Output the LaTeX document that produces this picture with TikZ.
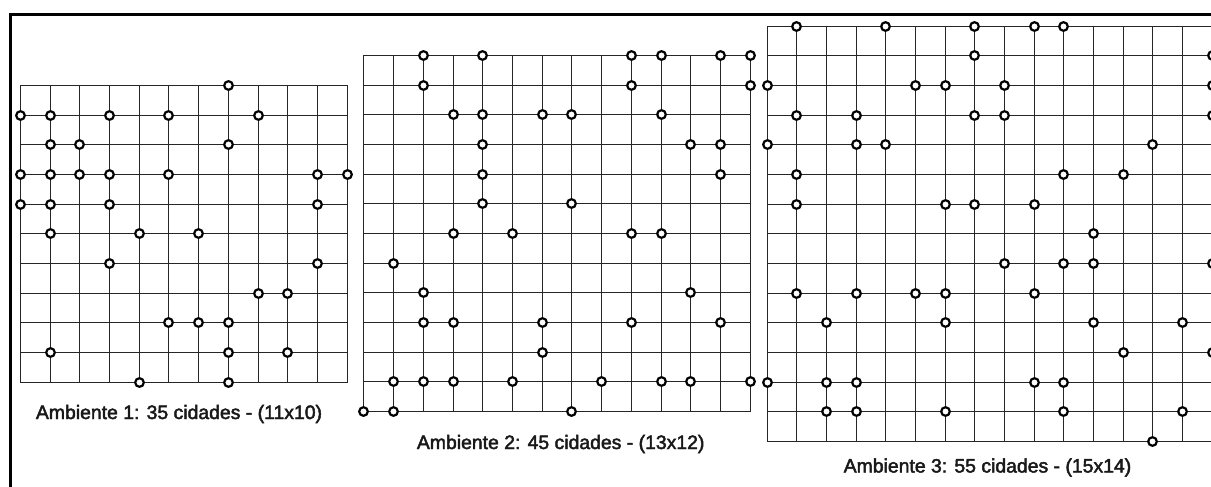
\documentclass[tikz,border=0pt]{standalone}
\usepackage{fontspec}
\setmainfont{Liberation Sans}
\newcommand\tspgrid[5]{% x0, y0, dx, nx, ny
  \foreach \i in {0,...,#4} \draw[gridline] ({round(#1+\i*#3)+0.5},{round(#2)+0.5}) -- ({round(#1+\i*#3)+0.5},{round(#2+#5*29.67)+0.5});
  \foreach \j in {0,...,#5} \draw[gridline] ({round(#1)+0.5},{round(#2+\j*29.67)+0.5}) -- ({round(#1+#4*#3)+0.5},{round(#2+\j*29.67)+0.5});
}
\newcommand\heavytext[1]{\special{pdf:literal 2 Tr 0.45 w}#1\special{pdf:literal 0 Tr}}
\begin{document}
\begin{tikzpicture}[x=1pt,y=-1pt,
  gridline/.style={line width=1pt, draw=black!85, line cap=rect},
  city/.style={circle, draw=black, fill=white, line width=2.2pt, minimum size=8.6pt, inner sep=0pt},
  caption/.style={font=\fontsize{19.4}{22}\selectfont, text=black!90, inner sep=0pt},
  frameline/.style={line width=3pt, draw=black}]
\useasboundingbox (0,0) rectangle (1211,487);
\begin{scope}
\clip (0,0) rectangle (1211,487);
\draw[frameline] (10.5,490) -- (10.5,14.5) -- (1215,14.5);
% grids
\tspgrid{20}{85}{29.7}{11}{10}
\tspgrid{363.3}{55}{29.74}{13}{12}
\tspgrid{766.7}{25.7}{29.67}{15}{14}
% cities, environment 1
\foreach \i/\j in {7/0, 0/1,1/1,3/1,5/1,8/1, 1/2,2/2,7/2, 0/3,1/3,2/3,3/3,5/3,10/3,11/3,
  0/4,1/4,3/4,10/4, 1/5,4/5,6/5, 3/6,10/6, 8/7,9/7, 5/8,6/8,7/8, 1/9,7/9,9/9, 4/10,7/10}
  \node[city] (a-\i-\j) at ({round(20+\i*29.7)+0.5},{round(85+\j*29.67)+0.5}) {};
% cities, environment 2
\foreach \i/\j in {2/0,4/0,9/0,10/0,12/0,13/0, 2/1,9/1,13/1, 3/2,4/2,6/2,7/2,10/2,
  4/3,11/3,12/3, 4/4,12/4, 4/5,7/5, 3/6,5/6,9/6,10/6, 1/7, 2/8,11/8,
  2/9,3/9,6/9,9/9,12/9, 6/10, 1/11,2/11,3/11,5/11,8/11,10/11,11/11,13/11, 0/12,1/12,7/12}
  \node[city] (b-\i-\j) at ({round(363.3+\i*29.74)+0.5},{round(55+\j*29.67)+0.5}) {};
% cities, environment 3
\foreach \i/\j in {1/0,4/0,7/0,9/0,10/0, 7/1,15/1, 0/2,5/2,6/2,8/2,15/2, 1/3,3/3,7/3,8/3,15/3,
  0/4,3/4,4/4,13/4, 1/5,10/5,12/5, 1/6,6/6,7/6,9/6, 11/7, 8/8,10/8,11/8,15/8,
  1/9,3/9,5/9,6/9,9/9, 2/10,6/10,11/10,14/10, 12/11,15/11, 0/12,2/12,3/12,9/12,10/12,
  2/13,3/13,6/13,10/13,14/13, 13/14}
  \node[city] (c-\i-\j) at ({round(766.7+\i*29.67)+0.5},{round(25.7+\j*29.67)+0.5}) {};
% captions
\node[caption] (cap1) at (179,414) {\heavytext{Ambiente 1: 35 cidades - (11x10)}};
\node[caption] (cap2) at (560.7,444) {\heavytext{Ambiente 2: 45 cidades - (13x12)}};
\node[caption] (cap3) at (987.5,467.5) {\heavytext{Ambiente 3: 55 cidades - (15x14)}};
\end{scope}
\end{tikzpicture}
\end{document}
